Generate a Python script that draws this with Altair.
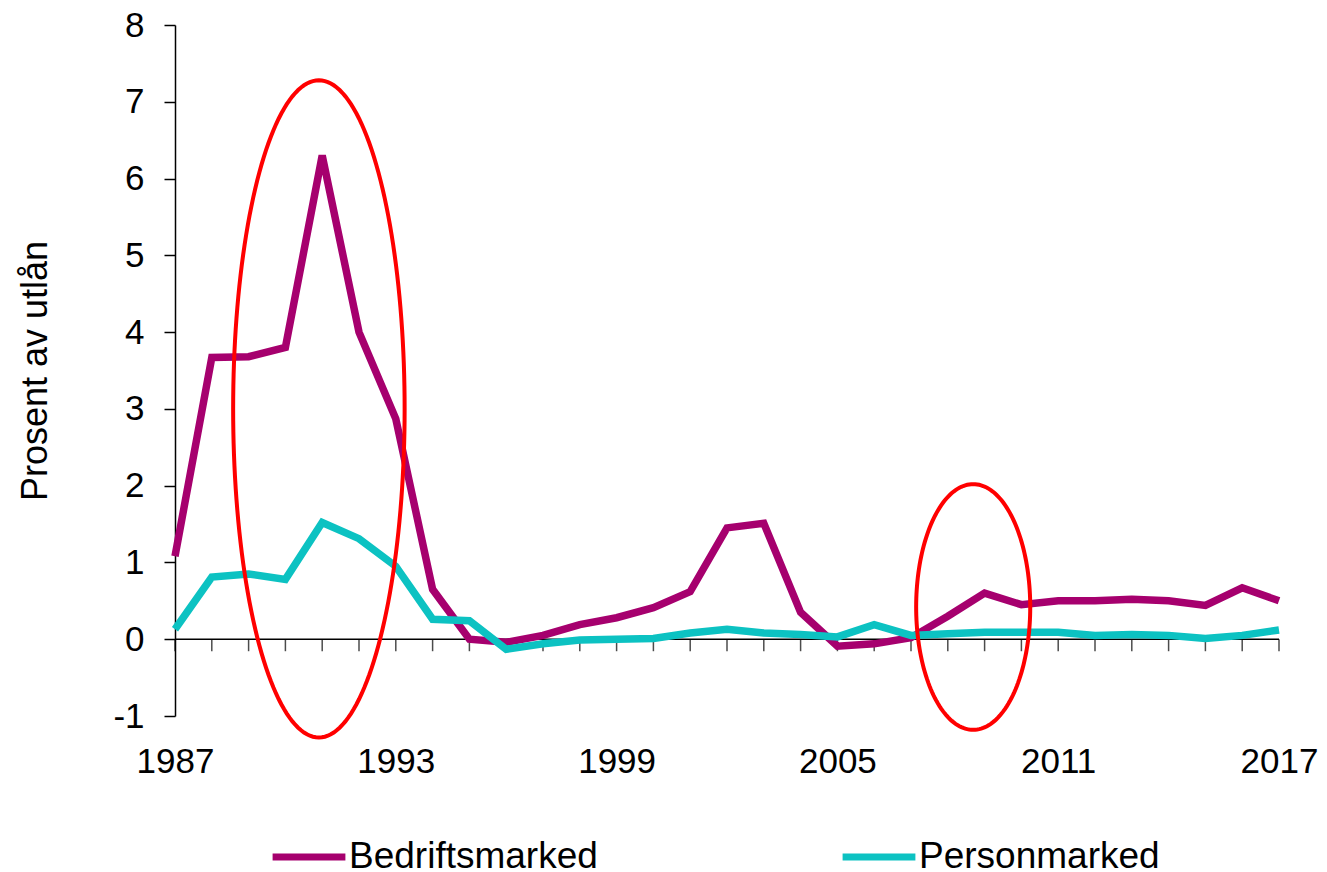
import altair as alt
import numpy as np
import pandas as pd

years = list(range(1987, 2018))
bedrift = [1.08, 3.67, 3.68, 3.80, 6.30, 4.00, 2.87, 0.65, 0.00, -0.04, 0.05, 0.19, 0.28, 0.41, 0.62,
           1.45, 1.51, 0.35, -0.09, -0.06, 0.02, 0.30, 0.60, 0.45, 0.50, 0.50, 0.52, 0.50, 0.44, 0.67, 0.50]
person = [0.13, 0.81, 0.85, 0.78, 1.52, 1.31, 0.95, 0.26, 0.24, -0.13, -0.06, -0.01, 0.00, 0.01, 0.08,
          0.13, 0.08, 0.06, 0.03, 0.19, 0.05, 0.07, 0.09, 0.09, 0.09, 0.05, 0.06, 0.05, 0.01, 0.05, 0.12]
series_names = ["Bedriftsmarked", "Personmarked"]
series_colors = ["#A6006E", "#0CC2C2"]
year_labels = [1987, 1993, 1999, 2005, 2011, 2017]
y_ticks = list(range(-1, 9))

# annotation ellipses: centre (year, value) and half-axes (years, percentage points)
ell_cx = [1990.91, 2008.69]
ell_cy = [3.00, 0.42]
ell_rx = [2.33, 1.55]
ell_ry = [4.28, 1.60]

FONT = "Liberation Sans"

df = pd.DataFrame({
    "year": years * 2,
    "value": bedrift + person,
    "series": [series_names[0]] * len(years) + [series_names[1]] * len(years),
})

rows = []
t = np.linspace(0, 2 * np.pi, 181)
for i in range(len(ell_cx)):
    for k, tt in enumerate(t):
        rows.append({"eid": i, "k": k,
                     "year": ell_cx[i] + ell_rx[i] * np.cos(tt),
                     "value": ell_cy[i] + ell_ry[i] * np.sin(tt)})
ell_df = pd.DataFrame(rows)
tick_df = pd.DataFrame({"year": years})

xscale = alt.Scale(domain=[1987, 2017], nice=False, zero=False)
yscale = alt.Scale(domain=[-1, 8], nice=False, zero=False)

lines = alt.Chart(df).mark_line(strokeWidth=7.5, strokeJoin="miter", strokeCap="butt").encode(
    x=alt.X("year:Q", scale=xscale,
            axis=alt.Axis(values=year_labels, format="d", title=None, domain=False, ticks=False,
                          tickSize=0, grid=False, labelFontSize=35, labelFont=FONT,
                          labelColor="#000000", labelPadding=28, labelFlush=False)),
    y=alt.Y("value:Q", scale=yscale,
            axis=alt.Axis(values=y_ticks, labelExpr="'' + datum.value", title="Prosent av utlån",
                          grid=False, tickSize=11,
                          labelPadding=20, labelFontSize=35, labelFont=FONT, labelColor="#000000",
                          domainColor="#000000", tickColor="#000000", domainWidth=1.5, tickWidth=1.5,
                          titleFont=FONT, titleFontSize=36, titleFontWeight="normal",
                          titleColor="#000000", titlePadding=58)),
    color=alt.Color("series:N", scale=alt.Scale(domain=series_names, range=series_colors),
                    legend=alt.Legend(title=None, orient="none", legendX=94, legendY=792,
                                      direction="horizontal", symbolType="stroke", symbolSize=5300,
                                      symbolStrokeWidth=7, labelFontSize=37, labelFont=FONT,
                                      labelColor="#000000", columnPadding=230, labelOffset=0,
                                      labelLimit=500)),
)

zero_rule = alt.Chart(pd.DataFrame({"a": [0]})).mark_rule(color="#000000", strokeWidth=1.5).encode(
    x=alt.datum(1987, scale=xscale), x2=alt.datum(2017), y=alt.datum(0, scale=yscale)
)

year_ticks = alt.Chart(tick_df).mark_tick(orient="vertical", color="#000000", thickness=1.5,
                                          size=12, yOffset=6).encode(
    x=alt.X("year:Q", scale=xscale), y=alt.datum(0, scale=yscale)
)

ellipses = alt.Chart(ell_df).mark_line(color="#FF0000", strokeWidth=4).encode(
    x=alt.X("year:Q", scale=xscale), y=alt.Y("value:Q", scale=yscale),
    detail="eid:N", order="k:Q"
)

chart = alt.layer(zero_rule, year_ticks, lines, ellipses).properties(
    width=1104, height=691,
    autosize=alt.AutoSizeParams(type="none"),
    padding={"left": 167, "top": 17, "right": 40, "bottom": 160},
).configure(background="#ffffff").configure_view(stroke=None)

chart.save("out.html", embed_options={"renderer": "svg", "actions": False})
